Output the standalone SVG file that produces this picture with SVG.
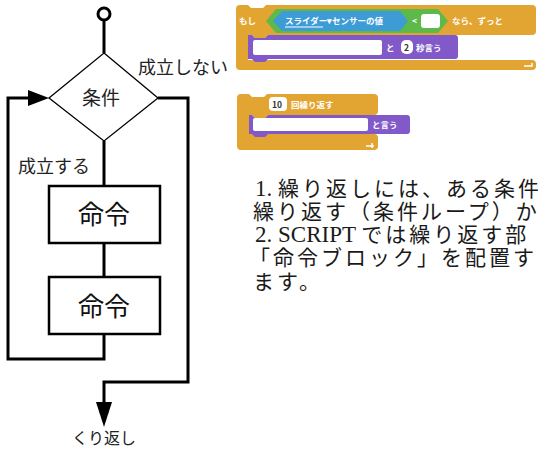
<svg xmlns="http://www.w3.org/2000/svg" width="538" height="450" viewBox="0 0 538 450">
<style>
.ln{fill:none;stroke:#000;stroke-width:3;stroke-linejoin:miter}
.lbl{font-family:"Noto Sans CJK JP",sans-serif;fill:#222}
.big{font-family:"Liberation Serif","Noto Sans CJK JP",serif;font-size:26px;fill:#111;text-anchor:middle}
.para{font-family:"Liberation Serif","Noto Sans CJK JP",serif;font-size:21px;letter-spacing:3px;fill:#1a1a1a}
.lat{font-size:23px;letter-spacing:0}
.ctl{fill:#E3A531}
.lks{fill:#8159C8}
.sen{fill:#3D9BD6}
.op{fill:#5DB94A}
.wt{font-family:"Noto Sans CJK JP",sans-serif;font-size:8.5px;font-weight:bold;fill:#fff}
.dk{font-family:"Noto Sans CJK JP",sans-serif;font-size:8.5px;font-weight:bold;fill:#333}
</style>
<g id="connectors">
<line class="ln" x1="104" y1="20" x2="104" y2="53"/>
<line class="ln" x1="104" y1="141" x2="104" y2="186"/>
<line class="ln" x1="104" y1="243" x2="104" y2="277"/>
<polyline class="ln" points="104,334 104,359 8,359 8,98 30,98"/>
<polygon points="28,90 49,98 28,106" fill="#000"/>
<polyline class="ln" points="158,98 188,98 188,382 104,382 104,403"/>
<polygon points="96,402 112,402 104,427" fill="#000"/>
</g>
<g id="start">
<circle cx="104" cy="14" r="6" fill="#fff" stroke="#000" stroke-width="3"/>
</g>
<g id="cond">
<polygon points="104,53 158,98 104,141 49,98" fill="#fff" stroke="#000" stroke-width="1.3"/>
<text class="lbl" x="101" y="105" font-size="19" text-anchor="middle">条件</text>
</g>
<g id="cmd1">
<rect x="49" y="186" width="111" height="57" fill="#fff" stroke="#000" stroke-width="2.5"/>
<text class="big" x="104" y="224">命令</text>
</g>
<g id="cmd2">
<rect x="49" y="277" width="111" height="57" fill="#fff" stroke="#000" stroke-width="2.5"/>
<text class="big" x="104" y="316">命令</text>
</g>
<g id="labels">
<text class="lbl" x="138" y="74" font-size="18">成立しない</text>
<text class="lbl" x="18" y="173" font-size="18">成立する</text>
<text class="lbl" x="104" y="444" font-size="16" text-anchor="middle">くり返し</text>
</g>
<g id="block-forever-if">
<path class="ctl" d="M236,9 Q236,5 240,5 H248 L251,8 H263 L266,5 H532 Q536,5 536,9 V31 Q536,35 532,35 H268 L265,38 H255 L252,35 H248 V60 H532 Q536,60 536,64 V66 Q536,70 532,70 H240 Q236,70 236,66 Z"/>
<path class="lks" d="M248,35 H252 L255,38 H265 L268,35 H455 Q458,35 458,38 V56 Q458,59 455,59 H268 L265,62 H255 L252,59 H248 Z"/>
<polygon class="op" points="266,21 276,9 438,9 448,21 438,33 276,33"/>
<polygon class="sen" points="273,21 282,11 400,11 408,21 400,31 282,31"/>
<rect x="421" y="14" width="19" height="14" rx="3" fill="#fff"/>
<text class="wt" x="239" y="24">もし</text>
<text class="wt" x="285" y="24" font-size="7.5">スライダー▾</text>
<line x1="285" y1="27" x2="323" y2="27" stroke="#fff" stroke-width="1"/>
<text class="wt" x="332" y="24" font-size="8">センサーの値</text>
<text class="wt" x="412" y="24">&lt;</text>
<text class="wt" x="452" y="24">なら、ずっと</text>
<rect x="253" y="40" width="129" height="15" rx="2" fill="#fff"/>
<text class="wt" x="386" y="51">と</text>
<rect x="401" y="40" width="12" height="14" rx="5" fill="#fff"/>
<text class="dk" x="404" y="51">2</text>
<text class="wt" x="416" y="51">秒言う</text>
<path d="M524,66 H532 V63" fill="none" stroke="#fff" stroke-width="1.5"/>
</g>
<g id="block-repeat">
<path class="ctl" d="M237,98 Q237,94 241,94 H249 L252,97 H264 L267,94 H374 Q378,94 378,98 V111 Q378,115 374,115 H268 L265,118 H255 L252,115 H249 V134 H374 Q378,134 378,138 V146 Q378,150 374,150 H241 Q237,150 237,146 Z"/>
<path class="lks" d="M249,115 H252 L255,118 H265 L268,115 H407 Q410,115 410,118 V131 Q410,134 407,134 H268 L265,137 H255 L252,134 H249 Z"/>
<rect x="269" y="97" width="18" height="14" rx="4" fill="#fff"/>
<text class="dk" x="272" y="108">10</text>
<text class="wt" x="291" y="108">回繰り返す</text>
<rect x="253" y="118" width="115" height="13" rx="2" fill="#fff"/>
<text class="wt" x="372" y="128">と言う</text>
<path d="M366,146 H374 M372,143 V148" fill="none" stroke="#fff" stroke-width="1.5"/>
</g>
<g id="text">
<text class="para" x="255" y="196"><tspan class="lat">1. </tspan>繰り返しには、ある条件</text>
<text class="para" x="253" y="219">繰り返す（条件ループ）か</text>
<text class="para" x="255" y="242"><tspan class="lat">2. SCRIPT </tspan>では繰り返す部</text>
<text class="para" x="249" y="265">「命令ブロック」を配置す</text>
<text class="para" x="253" y="289">ます。</text>
</g>
</svg>
